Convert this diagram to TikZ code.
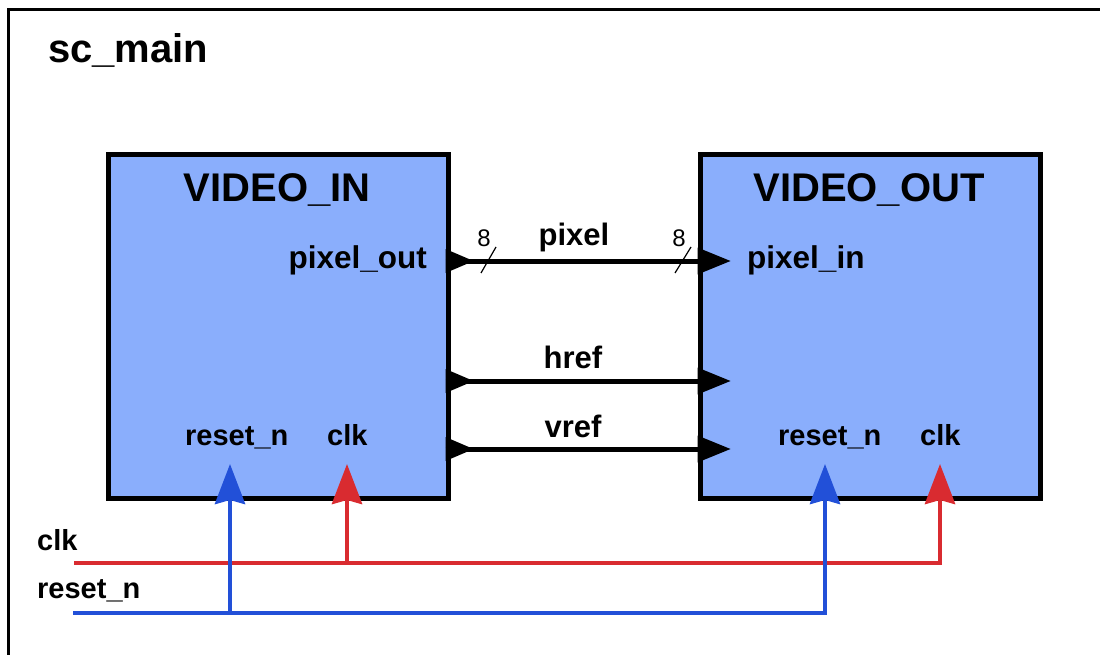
\documentclass[tikz,border=0pt]{standalone}
\usepackage{fontspec}
\setmainfont{Liberation Sans}
\usetikzlibrary{arrows.meta}
\definecolor{modfill}{RGB}{138,174,252}
\definecolor{clkred}{RGB}{217,43,48}
\definecolor{rstblue}{RGB}{34,80,216}

\begin{document}
\begin{tikzpicture}[x=1pt,y=-1pt,
  module/.style={draw=black, line width=5pt, fill=modfill, rectangle,
    minimum width=340pt, minimum height=343pt, anchor=north west, inner sep=0pt},
  bigtitle/.style={font=\fontsize{40}{48}\selectfont\bfseries, inner sep=0pt, anchor=base},
  portlabel/.style={font=\fontsize{29}{34}\selectfont\bfseries, inner sep=0pt},
  busport/.style={font=\fontsize{31.5}{36}\selectfont\bfseries, inner sep=0pt},
  wirelabel/.style={font=\fontsize{31}{36}\selectfont\bfseries, inner sep=0pt, anchor=base},
  widthlabel/.style={font=\fontsize{24}{28}\selectfont, inner sep=0pt, anchor=base},
  bus/.style={line width=5pt, black},
  slash/.style={line width=1.2pt, black},
  clkwire/.style={line width=4.5pt, clkred},
  rstwire/.style={line width=4.5pt, rstblue},
  inarrow/.style={-{Stealth[length=40pt, width=30pt, inset=4pt]}},
]
\useasboundingbox (0,0) rectangle (1100,655);
\clip (0,0) rectangle (1100,655);

% enclosing sc_main frame (runs off the right and bottom)
\draw[line width=3.5pt] (8.5,700) -- (8.5,9.5) -- (1150,9.5);
\node[bigtitle, anchor=base west] (main) at (48,63) {sc\_main};

% modules
\node[module] (vin)  at (105.5,152.5) {};
\node[module] (vout) at (697.5,152.5) {};
\node[bigtitle] (vintitle)  at (277,201) {VIDEO\_IN};
\node[bigtitle] (vouttitle) at (869,201) {VIDEO\_OUT};

% port labels
\node[busport, anchor=base east] (pixout) at (427,268) {pixel\_out};
\node[busport, anchor=base west] (pixin)  at (747,268) {pixel\_in};
\node[portlabel, anchor=base west] (vinrst) at (185,445) {reset\_n};
\node[portlabel, anchor=base west] (vinclk) at (327,445) {clk};
\node[portlabel, anchor=base west] (voutrst) at (778,445) {reset\_n};
\node[portlabel, anchor=base west] (voutclk) at (920,445) {clk};

% port positions on the module edges
\coordinate (o1) at (445.5,261);
\coordinate (o2) at (445.5,381);
\coordinate (o3) at (445.5,449);
\coordinate (i1) at (697.5,261);
\coordinate (i2) at (697.5,381);
\coordinate (i3) at (697.5,449);

% signal wires between the modules
\foreach \a/\b in {o1/i1, o2/i2, o3/i3}{
  \draw[bus] (\a) -- (\b);
  \fill (\a) ++(0,-12) -- ++(28,12) -- ++(-28,12) -- cycle;
  \fill (\b) ++(0,-13.5) -- ++(33,13.5) -- ++(-33,13.5) -- cycle;
}
\node[wirelabel] (lpix)  at (574,245) {pixel};
\node[wirelabel] (lhref) at (573,368) {href};
\node[wirelabel] (lvref) at (573,437) {vref};

% bus width marks
\coordinate (s1a) at (481,273); \coordinate (s1b) at (496,247);
\coordinate (s2a) at (675,273); \coordinate (s2b) at (691,247);
\draw[slash] (s1a) -- (s1b);
\draw[slash] (s2a) -- (s2b);
\node[widthlabel] (w1) at (484,247) {8};
\node[widthlabel] (w2) at (679,247) {8};

% clock and reset distribution
\node[portlabel, anchor=base west] (clklbl) at (37,550) {clk};
\node[portlabel, anchor=base west] (rstlbl) at (37,598) {reset\_n};
\coordinate (clkstart) at (74,563);
\coordinate (clktap) at (347,563);
\coordinate (clkcorner) at (940,563);
\coordinate (vinclkpin) at (347,464);
\coordinate (voutclkpin) at (940,464);
\coordinate (rststart) at (73,613);
\coordinate (rsttap) at (230,613);
\coordinate (rstcorner) at (825,613);
\coordinate (vinrstpin) at (230,464);
\coordinate (voutrstpin) at (825,464);

\draw[clkwire, inarrow] (clkstart) -- (clkcorner) -- (voutclkpin);
\draw[clkwire, inarrow] (clktap) -- (vinclkpin);
\draw[rstwire, inarrow] (rststart) -- (rstcorner) -- (voutrstpin);
\draw[rstwire, inarrow] (rsttap) -- (vinrstpin);
\end{tikzpicture}
\end{document}
